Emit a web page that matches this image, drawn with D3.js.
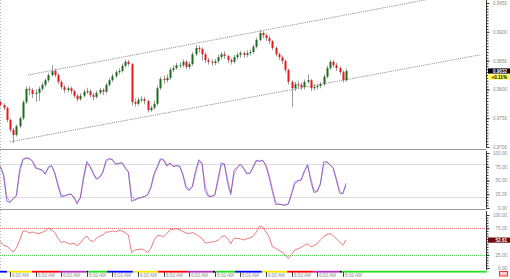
<!DOCTYPE html>
<html>
<head>
<meta charset="utf-8">
<script src="https://cdn.jsdelivr.net/npm/d3@7"></script>
<style>
body{margin:0;background:#fff;}
svg{display:block;font-family:Arial,"Liberation Sans",sans-serif;}
</style>
</head>
<body>
<script>
//Candle data (one candle per index)
var opens = [0.9778,0.9773,0.9768,0.9747,0.9730,0.9721,0.9736,0.9750,0.9778,0.9801,
  0.9799,0.9792,0.9794,0.9801,0.9808,0.9816,0.9825,0.9832,0.9825,0.9813,
  0.9804,0.9799,0.9802,0.9797,0.9789,0.9783,0.9789,0.9796,0.9797,0.9790,
  0.9787,0.9794,0.9799,0.9796,0.9808,0.9816,0.9823,0.9830,0.9832,0.9841,
  0.9848,0.9844,0.9778,0.9775,0.9782,0.9783,0.9780,0.9764,0.9768,0.9775,
  0.9802,0.9818,0.9816,0.9820,0.9834,0.9837,0.9842,0.9842,0.9848,0.9839,
  0.9844,0.9861,0.9872,0.9870,0.9861,0.9851,0.9848,0.9846,0.9849,0.9856,
  0.9861,0.9858,0.9851,0.9848,0.9856,0.9860,0.9863,0.9860,0.9863,0.9865,
  0.9874,0.9886,0.9898,0.9894,0.9889,0.9884,0.9872,0.9861,0.9856,0.9849,
  0.9834,0.9813,0.9802,0.9809,0.9808,0.9804,0.9813,0.9816,0.9802,0.9804,
  0.9806,0.9809,0.9822,0.9837,0.9848,0.9842,0.9837,0.9830,0.9816];
var closes = [0.9773,0.9768,0.9747,0.9730,0.9721,0.9736,0.9750,0.9778,0.9801,0.9799,
  0.9792,0.9794,0.9801,0.9808,0.9816,0.9825,0.9832,0.9825,0.9813,0.9804,
  0.9799,0.9802,0.9797,0.9789,0.9783,0.9789,0.9796,0.9797,0.9790,0.9787,
  0.9794,0.9799,0.9796,0.9808,0.9816,0.9823,0.9830,0.9832,0.9841,0.9848,
  0.9844,0.9778,0.9775,0.9782,0.9783,0.9780,0.9764,0.9768,0.9775,0.9802,
  0.9818,0.9816,0.9820,0.9834,0.9837,0.9842,0.9842,0.9848,0.9839,0.9844,
  0.9861,0.9872,0.9870,0.9861,0.9851,0.9848,0.9846,0.9849,0.9856,0.9861,
  0.9858,0.9851,0.9848,0.9856,0.9860,0.9863,0.9860,0.9863,0.9865,0.9874,
  0.9886,0.9898,0.9894,0.9889,0.9884,0.9872,0.9861,0.9856,0.9849,0.9834,
  0.9813,0.9802,0.9809,0.9808,0.9804,0.9813,0.9816,0.9802,0.9804,0.9806,
  0.9809,0.9822,0.9837,0.9848,0.9842,0.9837,0.9830,0.9816,0.9832];
var highs = [0.9781,0.9776,0.9770,0.9750,0.9733,0.9739,0.9753,0.9781,0.9806,0.9805,
  0.9802,0.9800,0.9805,0.9812,0.9819,0.9829,0.9842,0.9836,0.9828,0.9816,
  0.9808,0.9806,0.9805,0.9800,0.9792,0.9793,0.9800,0.9803,0.9800,0.9794,
  0.9798,0.9803,0.9802,0.9811,0.9820,0.9827,0.9834,0.9837,0.9845,0.9852,
  0.9851,0.9846,0.9784,0.9786,0.9788,0.9787,0.9782,0.9772,0.9780,0.9806,
  0.9822,0.9824,0.9826,0.9838,0.9842,0.9846,0.9847,0.9852,0.9851,0.9848,
  0.9865,0.9877,0.9876,0.9873,0.9864,0.9855,0.9852,0.9853,0.9860,0.9865,
  0.9866,0.9860,0.9854,0.9860,0.9864,0.9867,0.9866,0.9868,0.9869,0.9878,
  0.9890,0.9903,0.9901,0.9897,0.9893,0.9886,0.9875,0.9864,0.9859,0.9852,
  0.9836,0.9816,0.9813,0.9814,0.9812,0.9817,0.9826,0.9818,0.9809,0.9810,
  0.9813,0.9826,0.9841,0.9852,0.9851,0.9846,0.9840,0.9833,0.9836];
var lows = [0.9770,0.9764,0.9743,0.9726,0.9707,0.9718,0.9733,0.9747,0.9775,0.9790,
  0.9785,0.9778,0.9780,0.9797,0.9804,0.9812,0.9822,0.9821,0.9809,0.9800,
  0.9794,0.9795,0.9792,0.9785,0.9779,0.9780,0.9786,0.9792,0.9786,0.9781,
  0.9784,0.9791,0.9790,0.9793,0.9805,0.9813,0.9820,0.9826,0.9829,0.9838,
  0.9840,0.9772,0.9770,0.9772,0.9778,0.9774,0.9760,0.9761,0.9765,0.9772,
  0.9799,0.9810,0.9812,0.9817,0.9830,0.9834,0.9837,0.9838,0.9835,0.9835,
  0.9841,0.9858,0.9864,0.9850,0.9846,0.9843,0.9841,0.9842,0.9845,0.9852,
  0.9853,0.9846,0.9843,0.9845,0.9852,0.9855,0.9855,0.9856,0.9859,0.9862,
  0.9871,0.9883,0.9889,0.9884,0.9879,0.9868,0.9857,0.9851,0.9844,0.9829,
  0.9808,0.9769,0.9797,0.9801,0.9799,0.9800,0.9810,0.9797,0.9798,0.9800,
  0.9802,0.9806,0.9819,0.9834,0.9838,0.9832,0.9826,0.9812,0.9813];

//Oscillators
var stochK = [75,58,12,10,18,23,70,89,91,90, 85,72,71,69,61,75,77,62,40,20,
  22,24,26,18,7,20,58,85,75,62, 52,56,66,87,90,88,79,81,83,72,
  65,12,15,18,19,21,24,38,63,75, 90,87,76,82,75,77,76,60,36,32,
  40,68,88,81,30,21,21,24,54,82, 80,45,24,69,74,80,71,62,63,76,
  87,85,87,76,55,30,6,7,6,5, 8,28,47,50,51,68,79,48,28,30,
  45,84,84,78,72,50,27,26,45];
var stochD = [76,62,20,11,16,22,62,86,91,90, 86,75,71,69,63,72,77,65,44,24,
  22,24,25,20,10,18,51,80,77,65, 54,55,64,83,89,88,81,81,82,74,
  66,22,14,17,19,21,24,35,58,73, 87,88,78,81,76,77,76,63,41,33,
  38,63,84,82,40,23,21,23,48,77, 80,52,28,60,73,79,73,64,63,73,
  85,85,86,78,59,35,11,7,6,5, 7,24,43,49,51,65,77,54,32,30,
  42,77,84,79,73,54,31,26,41];
var rsi = [50,43,41,36,30,38,52,69,70,66, 68,66,65,67,70,75,72,67,56,48,
  50,47,45,47,42,47,56,60,52,50, 56,60,62,68,68,70,68,71,70,67,
  62,29,34,35,36,34,29,37,52,61, 61,59,65,72,73,74,72,69,66,65,
  67,64,60,56,47,48,49,50,52,58, 61,56,46,56,56,55,53,55,57,60,
  68,79,77,68,58,40,37,34,30,25, 18,26,34,36,39,43,46,40,42,46,
  53,59,63,65,61,55,49,43,52.61];

//Axis ticks and labels
var priceTicks = [0.9700,0.9750,0.9800,0.9850,0.9900,0.9950];
var stochTicks = [0,25,50,75,100];
var rsiTicks = [0,25,75,100];   // 50 sits under the value tag
var stochLevels = [20,80];
var rsiLevels = [25,75];
var timeTicks = [3,11,19,27,35,43,51,59,67,75,83,91,99,107];
var timeLabels = ["6:00 AM","6:00 AM","6:00 AM","6:00 AM","6:00 AM","6:00 AM","6:00 AM",
  "6:00 AM","6:00 AM","6:00 AM","6:00 AM","6:00 AM","6:00 AM","6:00 AM"];
var changeText = "+0.11%";

//Session colour strip along the time axis
var sessionStarts = [-1,2.1,9.9,18.6,27.0,27.4,33.3,41.4,49.3,58.6,66.4,67.1,73.3,81.7,89.6,97.7,106.1,106.7];
var sessionColors = ["#0000ff","#f5e600","#ff0000","#b030c0","#000000","#22e022",
  "#0000ff","#f5e600","#ff0000","#b030c0","#000000","#22e022",
  "#0000ff","#f5e600","#ff0000","#b030c0","#000000","#22e022"];

//Channel trendlines [index, price]
var upperChannel = [[8.6,0.9825],[140,0.9963]];
var lowerChannel = [[3,0.9709],[149.9,0.9860]];

var width = 510, height = 279;
var plotRight = 486.5;

var svg = d3.select("body").append("svg")
    .attr("width",width)
    .attr("height",height);

var x = d3.scaleLinear().domain([0,152]).range([0.4,486.8]);
var yP = d3.scaleLinear().domain([0.9700,0.9950]).range([147,3]);
var yS = d3.scaleLinear().domain([0,100]).range([208,153]);
var yR = d3.scaleLinear().domain([0,100]).range([268,215]);

var candles = d3.range(closes.length).map(function(i){
    return {i:i,o:opens[i],c:closes[i],h:highs[i],l:lows[i]};
});

svg.append("clipPath").attr("id","mainClip")
  .append("rect").attr("x",0).attr("y",0).attr("width",plotRight).attr("height",149);

//Left edge dotted border
svg.append("line").attr("x1",0.5).attr("x2",0.5).attr("y1",0).attr("y2",270)
    .attr("stroke","#b0b0b0").attr("stroke-dasharray","1,2");

//Panel separators
svg.selectAll("line.sep")
    .data([149.5,209.5])
    .enter().append("line")
    .attr("class","sep")
    .attr("x1",0).attr("x2",plotRight)
    .attr("y1",function(d){return d;}).attr("y2",function(d){return d;})
    .attr("stroke","#9a9a9a").attr("stroke-width",1);

//Oscillator level lines
svg.selectAll("line.stlev")
    .data(stochLevels)
    .enter().append("line")
    .attr("x1",0).attr("x2",plotRight)
    .attr("y1",function(d){return Math.round(yS(d))+0.5;})
    .attr("y2",function(d){return Math.round(yS(d))+0.5;})
    .attr("stroke","#dedede");

svg.selectAll("line.rlev")
    .data(rsiLevels)
    .enter().append("line")
    .attr("x1",0).attr("x2",plotRight)
    .attr("y1",function(d){return Math.round(yR(d))+0.5;})
    .attr("y2",function(d){return Math.round(yR(d))+0.5;})
    .attr("stroke",function(d){return d>50 ? "#f07a7a" : "#5ad85a";})
    .attr("stroke-dasharray","1,1");

//Channel lines
var main = svg.append("g").attr("clip-path","url(#mainClip)");
var chanLine = d3.line()
    .x(function(d){return x(d[0]);})
    .y(function(d){return yP(d[1]);});
main.selectAll("path.chan")
    .data([upperChannel,lowerChannel])
    .enter().append("path")
    .attr("d",chanLine)
    .attr("fill","none")
    .attr("stroke","#777")
    .attr("stroke-width",0.8)
    .attr("stroke-dasharray","1.2,1");

//Candles
var cg = main.selectAll("g.candle")
    .data(candles)
    .enter().append("g");
cg.append("line")
    .attr("x1",function(d){return Math.round(x(d.i))+0.5;})
    .attr("x2",function(d){return Math.round(x(d.i))+0.5;})
    .attr("y1",function(d){return yP(d.h);})
    .attr("y2",function(d){return yP(d.l);})
    .attr("stroke","#9c9c9c").attr("stroke-width",1);
cg.append("rect")
    .attr("x",function(d){return Math.round(x(d.i))-0.5;})
    .attr("width",2)
    .attr("y",function(d){return yP(Math.max(d.o,d.c));})
    .attr("height",function(d){return Math.max(1,Math.abs(yP(d.o)-yP(d.c)));})
    .attr("fill",function(d){return d.c>=d.o ? "#1e6b1e" : "#e3191c";});

//Stochastic
var sLine = d3.line()
    .x(function(d,i){return x(i);})
    .y(function(d){return yS(d);});
svg.append("path").attr("d",sLine(stochK))
    .attr("fill","none").attr("stroke","#8585ff").attr("stroke-width",1);
svg.append("path").attr("d",sLine(stochD))
    .attr("fill","none").attr("stroke","#b02858").attr("stroke-width",0.7).attr("opacity",0.7);

//RSI
var rLine = d3.line()
    .x(function(d,i){return x(i);})
    .y(function(d){return yR(d);});
svg.append("path").attr("d",rLine(rsi))
    .attr("fill","none").attr("stroke","#e25a5a").attr("stroke-width",0.8);

//Right axes
function rightAxis(scale,minor,major,fmt,top,bottom){
    var g = svg.append("g").attr("transform","translate("+plotRight+",0)");
    g.append("line").attr("y1",top).attr("y2",bottom).attr("stroke","#333");
    g.call(d3.axisRight(scale).tickValues(minor).tickSize(2).tickFormat(""))
      .call(function(s){s.select(".domain").remove();});
    var g2 = svg.append("g").attr("transform","translate("+plotRight+",0)");
    g2.call(d3.axisRight(scale).tickValues(major).tickSize(3).tickFormat(fmt))
      .call(function(s){s.select(".domain").remove();});
    g.selectAll("line").attr("stroke","#333");
    g2.selectAll("line").attr("stroke","#333");
    g2.selectAll("text")
      .attr("x",20.5).attr("text-anchor","end")
      .attr("font-size",4.6).attr("fill","#8a8a8a");
}
rightAxis(yP,d3.range(0.9700,0.99505,0.0005),priceTicks,d3.format(".4f"),0,148);
rightAxis(yS,d3.range(0,100.1,5),stochTicks,d3.format(".2f"),151,208.5);
rightAxis(yR,d3.range(0,100.1,5),rsiTicks,d3.format(".2f"),211,270);

//Current value tags
var last = closes.length-1;
var tags = [
  {y:yP(closes[last]),fill:"#000",col:"#fff",txt:d3.format(".4f")(closes[last])},
  {y:yP(closes[last])+6,fill:"#ffff55",col:"#000",txt:changeText},
  {y:yR(rsi[last]),fill:"#6e0a0a",col:"#fff",txt:d3.format(".2f")(rsi[last])}
];
var tg = svg.selectAll("g.tag").data(tags).enter().append("g");
tg.append("rect")
    .attr("x",488).attr("width",22)
    .attr("y",function(d){return d.y-2.6;}).attr("height",5.2)
    .attr("fill",function(d){return d.fill;});
tg.append("text")
    .attr("x",507).attr("y",function(d){return d.y+1.7;})
    .attr("text-anchor","end").attr("font-size",4.6).attr("font-weight","bold")
    .attr("fill",function(d){return d.col;})
    .text(function(d){return d.txt;});

//Session strip
var segs = sessionStarts.map(function(s,k){
    return {s:s,e:k<sessionStarts.length-1 ? sessionStarts[k+1] : 152,c:sessionColors[k]};
});
svg.selectAll("rect.sess").data(segs).enter().append("rect")
    .attr("x",function(d){return Math.max(0,x(d.s));})
    .attr("width",function(d){return x(d.e)-Math.max(0,x(d.s));})
    .attr("y",270.8).attr("height",1.8)
    .attr("fill",function(d){return d.c;});

//Time axis
var tt = svg.selectAll("g.tt").data(timeTicks).enter().append("g")
    .attr("transform",function(d){return "translate("+(Math.round(x(d))+0.5)+",272)";});
tt.append("line").attr("y1",0).attr("y2",5).attr("stroke","#444");
tt.append("text")
    .attr("x",1.5).attr("y",4.8)
    .attr("font-size",4.6).attr("fill","#8a8a8a")
    .text(function(d,k){return timeLabels[k];});

//Small icon bottom right
svg.append("rect").attr("x",499.5).attr("y",271.5).attr("width",8).attr("height",4.5)
    .attr("fill","#ffc8c8").attr("stroke","#e33").attr("stroke-width",1);
</script>
</body>
</html>
